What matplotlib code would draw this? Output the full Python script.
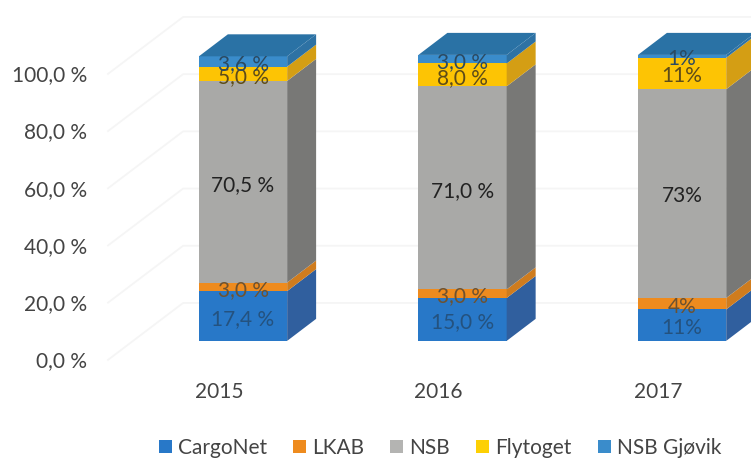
import numpy as np
import matplotlib
matplotlib.use('Agg')
import matplotlib.pyplot as plt
from matplotlib.patches import Patch, Polygon

# Data
years = ['2015', '2016', '2017']
series = ['CargoNet', 'LKAB', 'NSB', 'Flytoget', 'NSB Gjøvik']
cargonet = [17.4, 15.0, 11.0]
lkab = [3.0, 3.0, 4.0]
nsb = [70.5, 71.0, 73.0]
flytoget = [5.0, 8.0, 11.0]
gjovik = [3.6, 3.0, 1.0]
label_cargonet = ['17,4 %', '15,0 %', '11%']
label_lkab = ['3,0 %', '3,0 %', '4%']
label_nsb = ['70,5 %', '71,0 %', '73%']
label_flytoget = ['5,0 %', '8,0 %', '11%']
label_gjovik = ['3,6 %', '3,0 %', '1%']
y_ticks = [0, 20, 40, 60, 80, 100]
y_tick_labels = ['0,0 %', '20,0 %', '40,0 %', '60,0 %', '80,0 %', '100,0 %']

values = [cargonet, lkab, nsb, flytoget, gjovik]
labels = [label_cargonet, label_lkab, label_nsb, label_flytoget, label_gjovik]
front = ['#2878c8', '#ee8b1e', '#a9a9a7', '#fdc404', '#3a8ccb']
side = ['#305f9e', '#cf7c1e', '#787876', '#d49e14', '#2e72a4']
legend_col = ['#2878c8', '#ee8b1e', '#b4b4b2', '#fdd004', '#3a8ccb']
top_col = '#2a72a5'
label_col = ['#24527f', '#6e5230', '#222222', '#5e4c18', '#2b4a62']

# 3D look, in data units
bar_w = 0.402
depth_x = 0.132
depth_y = 7.7
wall_x = -0.615
wall_dx = 0.342
wall_dy = 19.9
wall_drop = 6.64

plt.rcParams['font.family'] = ['Lato', 'DejaVu Sans']

fig = plt.figure(figsize=(7.51, 4.59), dpi=100)
ax = fig.add_axes([0, 0, 1, 1])
ax.set_xlim(-1.107, 2.314)
ax.set_ylim(-41.3, 119.2)
ax.axis('off')

# faint walls behind the bars
for t, lab in zip(y_ticks, y_tick_labels):
    y0 = t - wall_drop
    ax.plot([wall_x, wall_x + wall_dx, 2.314], [y0, y0 + wall_dy, y0 + wall_dy],
            color='#f5f5f5', lw=1.3, zorder=1)
    ax.text(wall_x - 0.095, y0 - 0.5, lab, ha='right', va='center', fontsize=15, color='#444444')

x = np.arange(len(years))
bottom = np.zeros(len(years))
for k in range(len(series)):
    v = np.array(values[k])
    ax.bar(x, v, bar_w, bottom=bottom, color=front[k], zorder=3)
    for i in range(len(years)):
        r = x[i] + bar_w / 2
        b = bottom[i]
        t = b + v[i]
        ax.add_patch(Polygon([(r, b), (r + depth_x, b + depth_y), (r + depth_x, t + depth_y), (r, t)],
                             facecolor=side[k], edgecolor='none', zorder=3))
        # labels sit a little under the middle of the segment
        ax.text(x[i], b + v[i] / 2 - 1, labels[k][i], ha='center', va='center', fontsize=15,
                color=label_col[k], zorder=5)
    bottom = bottom + v

# top face of each column
for i in range(len(years)):
    l = x[i] - bar_w / 2
    r = x[i] + bar_w / 2
    t = bottom[i]
    ax.add_patch(Polygon([(l, t), (l + depth_x, t + depth_y), (r + depth_x, t + depth_y), (r, t)],
                         facecolor=top_col, edgecolor='none', zorder=4))
    ax.text(x[i] - 0.11, -17.7, years[i], ha='center', va='center', fontsize=15, color='#444444')

handles = [Patch(facecolor=c) for c in legend_col]
ax.legend(handles, series, loc='center', bbox_to_anchor=(0.586, 0.024), ncol=5, frameon=False,
          fontsize=15, labelcolor='#444444', handlelength=0.62, handleheight=0.62,
          handletextpad=0.3, columnspacing=1.25, borderpad=0)

fig.savefig('out.png', dpi=100)
